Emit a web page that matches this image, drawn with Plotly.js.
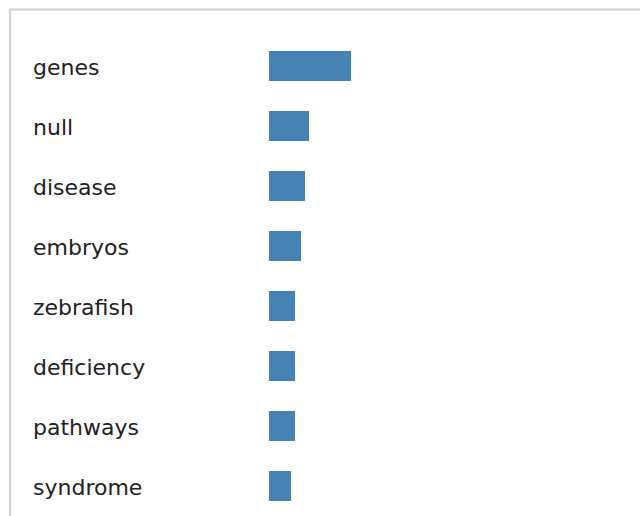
<!DOCTYPE html>
<html>
<head>
<meta charset="utf-8">
<script src="https://cdn.plot.ly/plotly-3.0.1.min.js"></script>
<style>html,body{margin:0;padding:0;background:#fff;}#chart{width:640px;height:516px;}</style>
</head>
<body>
<div id="chart"></div>
<script>
const categories = ["genes", "null", "disease", "embryos", "zebrafish", "deficiency", "pathways", "syndrome"];
const counts = [41, 20, 18, 16, 13, 13, 13, 11];

const W = 640, H = 516;
const L = 269, R = 11, T = 36, B = 0;
const pw = W - L - R, ph = H - T - B;
const px = v => (v - L) / pw;
const py = v => (H - B - v) / ph;

const trace = {
  type: "bar",
  orientation: "h",
  x: counts,
  y: categories,
  marker: { color: "#4682b4", line: { width: 0 } },
  hoverinfo: "x+y"
};

const annotations = categories.map(c => ({
  xref: "paper", yref: "y",
  x: px(31), y: c,
  xanchor: "left", yanchor: "middle",
  text: c, showarrow: false,
  yshift: -1,
  font: { family: "DejaVu Sans, Verdana, sans-serif", size: 22, color: "#222" }
}));

const layout = {
  width: W, height: H,
  margin: { l: L, r: R, t: T, b: B, pad: 0 },
  paper_bgcolor: "#fff", plot_bgcolor: "#fff",
  showlegend: false,
  bargap: 0.5,
  xaxis: { range: [0, pw / 2], visible: false, fixedrange: true },
  yaxis: { autorange: "reversed", showticklabels: false, showgrid: false, zeroline: false, showline: false, ticks: "", fixedrange: true },
  annotations: annotations,
  shapes: [
    { type: "line", xref: "paper", yref: "paper", x0: px(10), x1: px(645), y0: py(9.5), y1: py(9.5), line: { color: "#d0d0d0", width: 2 } },
    { type: "line", xref: "paper", yref: "paper", x0: px(10), x1: px(10), y0: py(9), y1: py(520), line: { color: "#d0d0d0", width: 2 } }
  ]
};

Plotly.newPlot("chart", [trace], layout, { displayModeBar: false, staticPlot: true });
</script>
</body>
</html>
